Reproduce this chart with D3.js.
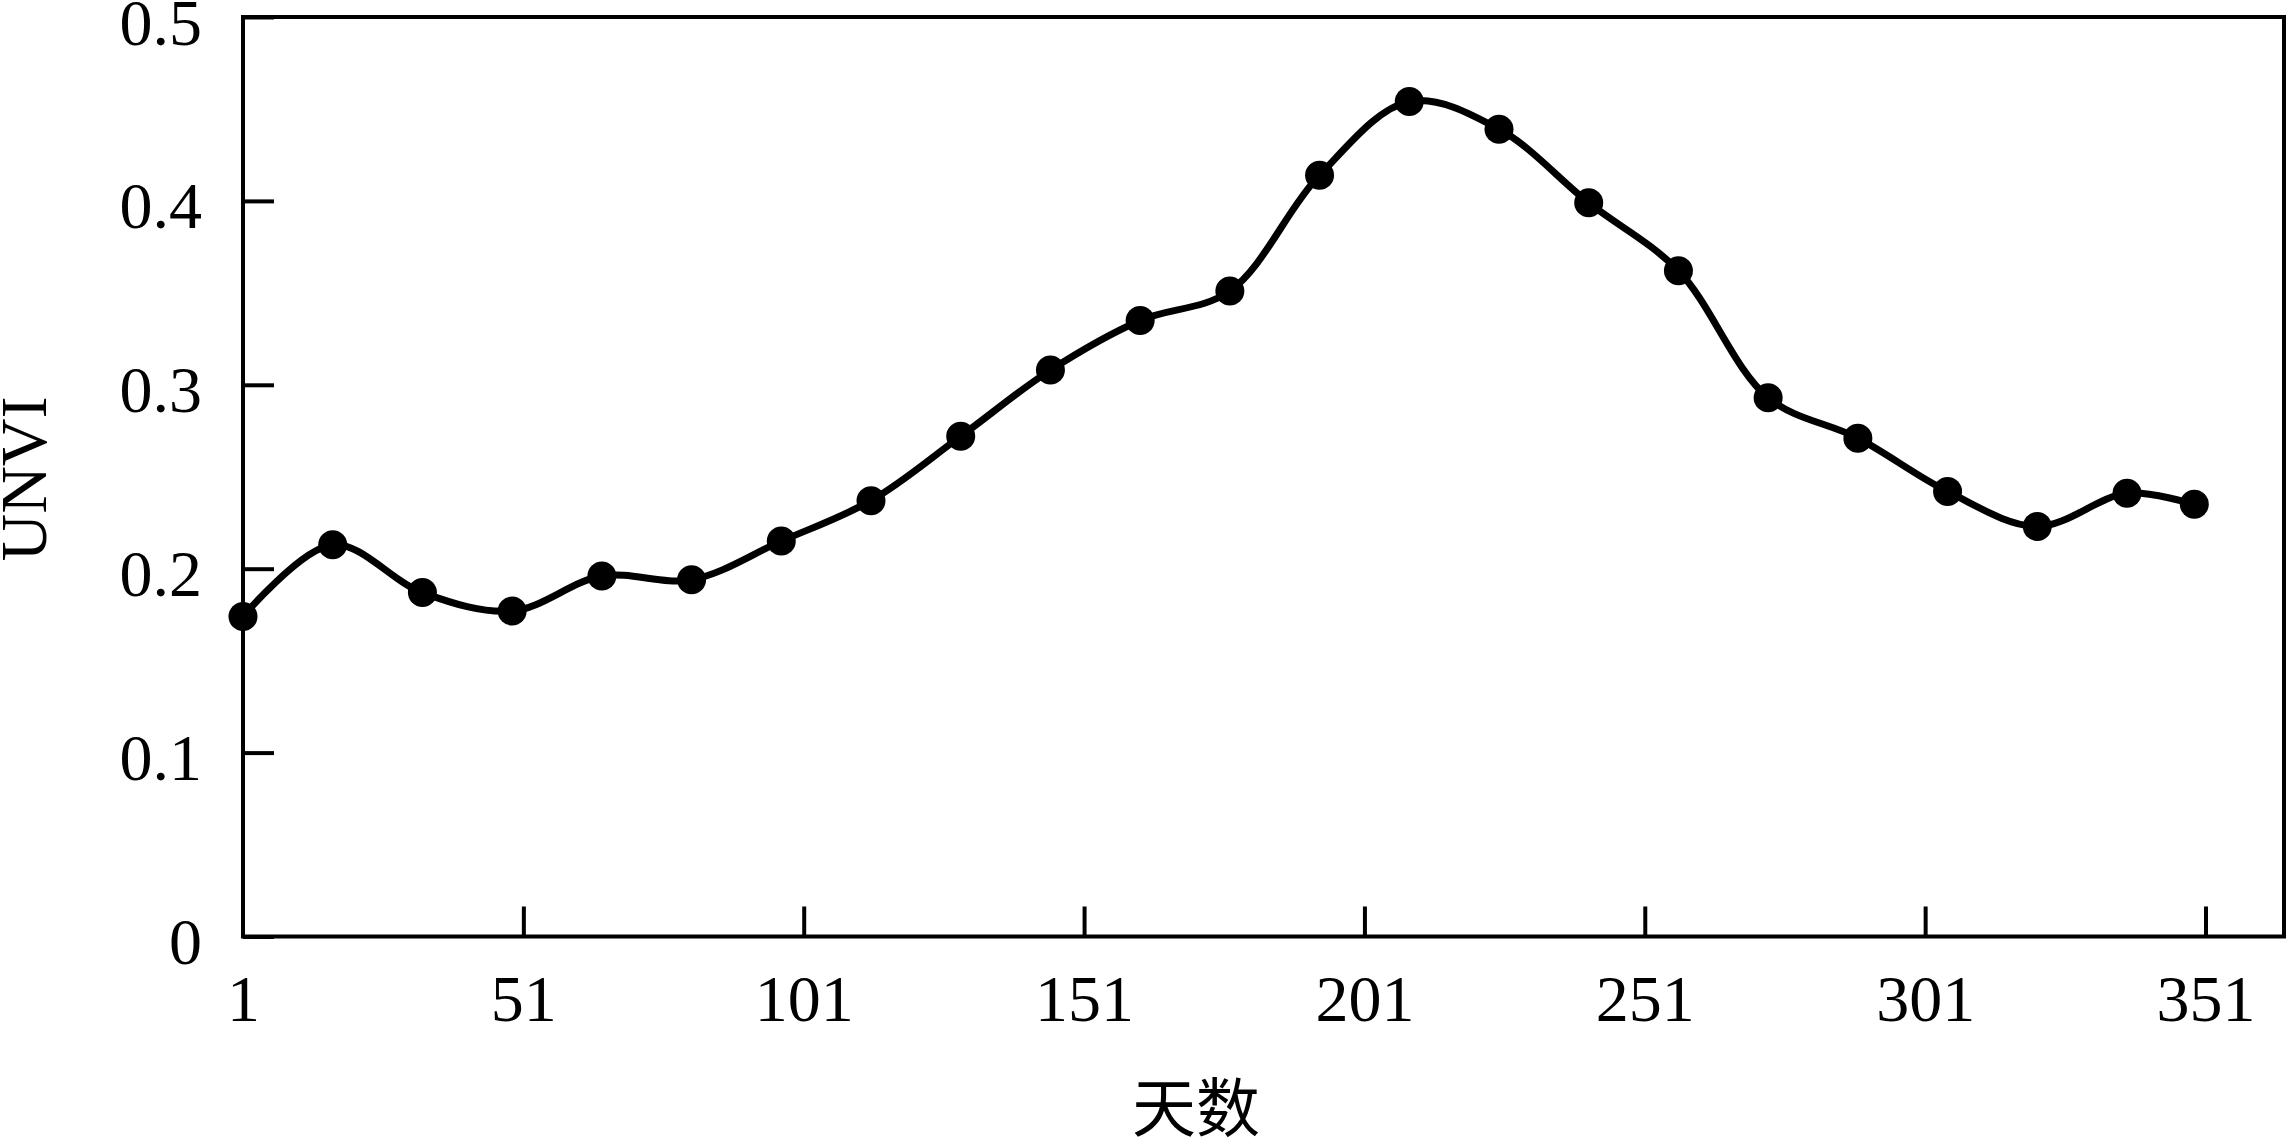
<!DOCTYPE html>
<html lang="zh">
<head>
<meta charset="UTF-8">
<title>UNVI</title>
<script src="https://d3js.org/d3.v7.min.js"></script>
<style>
  body { margin: 0; background: #fff; }
  text { font-family: "Liberation Serif", "Times New Roman", serif; fill: #000; }
  .cjk { font-family: "Noto Sans CJK SC", sans-serif; }
</style>
</head>
<body>
<div id="chart"></div>
<script>
// 16-day composites, day of year
const days = [1, 17, 33, 49, 65, 81, 97, 113, 129, 145, 161, 177, 193, 209, 225, 241, 257, 273, 289, 305, 321, 337, 349]
const unvi = [0.174, 0.213, 0.187, 0.177, 0.196, 0.194, 0.215, 0.237, 0.272, 0.308, 0.335, 0.351,
              0.414, 0.454, 0.439, 0.399, 0.362, 0.293, 0.271, 0.242, 0.223, 0.241, 0.235]
const xTicks = [1, 51, 101, 151, 201, 251, 301, 351]
const yTicks = [0, 0.1, 0.2, 0.3, 0.4, 0.5]

const W = 2288, H = 1143
const margin = {top: 17, right: 4, bottom: 207, left: 243}

const svg = d3.select("#chart").append("svg")
    .attr("width", W)
    .attr("height", H)

const x = d3.scaleLinear().domain([1, 365]).range([margin.left, W - margin.right])
const y = d3.scaleLinear().domain([0, 0.5]).range([H - margin.bottom + 0.5, margin.top])

// frame
svg.append("rect")
    .attr("x", x(1)).attr("y", y(0.5))
    .attr("width", x(365) - x(1)).attr("height", y(0) - y(0.5))
    .attr("fill", "none").attr("stroke", "#000").attr("stroke-width", 4)

// x axis: ticks point inward
const xAxis = svg.append("g")
    .attr("transform", `translate(0,${y(0)})`)
    .call(d3.axisBottom(x).tickValues(xTicks).tickSize(-30).tickPadding(0).tickFormat(d3.format("d")))
xAxis.select(".domain").remove()
xAxis.selectAll(".tick line").attr("stroke-width", 4)
xAxis.selectAll(".tick").filter(d => d === 1).select("line").remove()
xAxis.selectAll(".tick text")
    .attr("y", 84).attr("dy", null)
    .style("font-size", "66px")

// y axis
const yAxis = svg.append("g")
    .attr("transform", `translate(${x(1)},0)`)
    .call(d3.axisLeft(y).tickValues(yTicks).tickSize(-31).tickPadding(0).tickFormat(d => d === 0 ? "0" : d3.format(".1f")(d)))
yAxis.select(".domain").remove()
yAxis.selectAll(".tick line").attr("stroke-width", 4)
yAxis.selectAll(".tick text")
    .attr("x", -41).attr("dy", null).attr("y", 27)
    .style("font-size", "66px")

// axis titles
svg.append("text")
    .attr("class", "cjk")
    .attr("x", 1196).attr("y", 1131)
    .attr("text-anchor", "middle")
    .style("font-size", "64px")
    .text("天数")

svg.append("text")
    .attr("transform", `translate(46,479) rotate(-90)`)
    .attr("text-anchor", "middle")
    .style("font-size", "66px")
    .text("UNVI")

// smooth line
const pts = days.map((d, i) => [d, unvi[i]])
const line = d3.line()
    .x(d => x(d[0]))
    .y(d => y(d[1]))
    .curve(d3.curveCatmullRom.alpha(0.5))

svg.append("path")
    .datum(pts)
    .attr("d", line)
    .attr("fill", "none")
    .attr("stroke", "#000")
    .attr("stroke-width", 7)

svg.append("g")
  .selectAll("circle")
  .data(pts)
  .join("circle")
    .attr("cx", d => x(d[0]))
    .attr("cy", d => y(d[1]))
    .attr("r", 14.5)
    .attr("fill", "#000")
</script>
</body>
</html>
